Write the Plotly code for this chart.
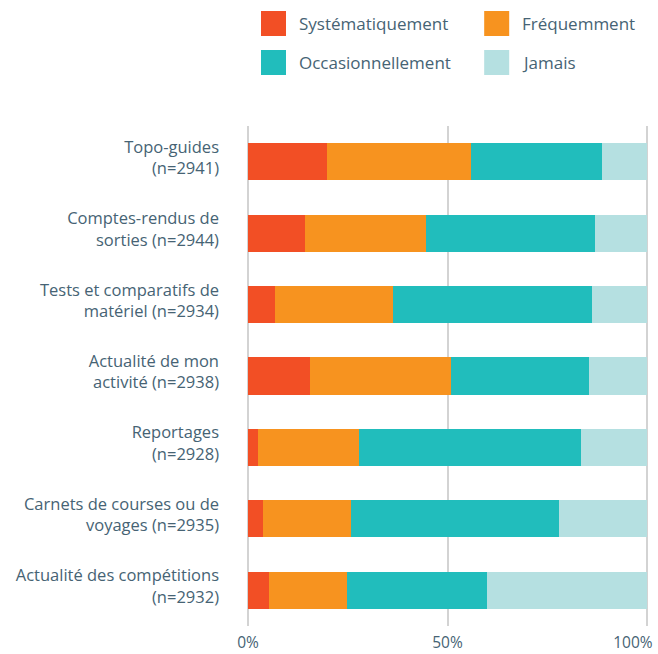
import plotly.graph_objects as go

categories = [
    "Topo-guides<br>(n=2941)",
    "Comptes-rendus de<br>sorties (n=2944)",
    "Tests et comparatifs de<br>matériel (n=2934)",
    "Actualité de mon<br>activité (n=2938)",
    "Reportages<br>(n=2928)",
    "Carnets de courses ou de<br>voyages (n=2935)",
    "Actualité des compétitions<br>(n=2932)",
]

systematiquement = [19.8, 14.3, 6.8, 15.6, 2.5, 3.7, 5.3]
frequemment = [36.1, 30.2, 29.6, 35.3, 25.4, 22.0, 19.5]
occasionnellement = [32.9, 42.5, 49.9, 34.5, 55.6, 52.3, 35.1]
jamais = [11.2, 13.0, 13.7, 14.6, 16.5, 22.0, 40.1]

x_ticks = [0, 50, 100]
x_ticktext = ["0%", "50%", "100%&nbsp;&nbsp;&nbsp;&nbsp;&nbsp;&nbsp;&nbsp;"]

series = [
    ("Systématiquement", systematiquement, "#f24f25"),
    ("Fréquemment", frequemment, "#f7931f"),
    ("Occasionnellement", occasionnellement, "#21bdbc"),
    ("Jamais", jamais, "#b5e0e1"),
]

text_color = "#466374"
font_family = "Open Sans"

fig = go.Figure()
for name, values, color in series:
    fig.add_trace(go.Bar(
        y=categories,
        x=values,
        name=name,
        orientation="h",
        marker=dict(color=color, line=dict(width=0)),
        hovertemplate="%{y}: %{x}%<extra>" + name + "</extra>",
    ))

# plot area in pixels, used to place the hand-drawn legend
# (x range runs a little past 100 so the 100% gridline is not clipped)
W, H = 658, 654
x_max = 100.5
left, top, bottom = 248, 126, 28
right = W - left - 398.7 * x_max / 100
pw = W - left - right
ph = H - top - bottom


def px_x(x):
    return (x - left) / pw


def px_y(y):
    return (H - bottom - y) / ph


legend_items = [
    (261, 11, series[0]),
    (484, 11, series[1]),
    (261, 50, series[2]),
    (484, 50, series[3]),
]
shapes = []
annotations = []
for x0, y0, (name, _, color) in legend_items:
    shapes.append(dict(
        type="rect", xref="paper", yref="paper",
        x0=px_x(x0), x1=px_x(x0 + 25), y0=px_y(y0 + 25), y1=px_y(y0),
        fillcolor=color, line=dict(width=0),
    ))
    annotations.append(dict(
        x=px_x(x0 + 36), y=px_y(y0 + 12.5), xref="paper", yref="paper",
        text=name, showarrow=False, xanchor="left", yanchor="middle",
        font=dict(size=17, color=text_color, family=font_family),
    ))

fig.update_layout(
    width=W,
    height=H,
    barmode="stack",
    bargap=0.48,
    showlegend=False,
    plot_bgcolor="white",
    paper_bgcolor="white",
    margin=dict(l=left, r=right, t=top, b=bottom, pad=0),
    font=dict(family=font_family, size=16.5, color=text_color),
    shapes=shapes,
    annotations=annotations,
    xaxis=dict(
        range=[0, x_max],
        tickvals=x_ticks,
        ticktext=x_ticktext,
        tickfont=dict(size=15.5),
        ticklabelstandoff=5,
        ticklabeloverflow="allow",
        showgrid=True,
        gridcolor="#d3d3d3",
        gridwidth=2,
        zeroline=True,
        zerolinecolor="#d3d3d3",
        zerolinewidth=2,
        showline=False,
        ticks="",
        automargin=False,
        fixedrange=True,
    ),
    yaxis=dict(
        autorange="reversed",
        showgrid=False,
        ticks="",
        ticklabelstandoff=28,
        ticklabelshift=4,
        automargin=False,
        fixedrange=True,
    ),
)

# the page's default body margin would shift the chart by 8px
fig.write_html(
    "out.html",
    config={"displayModeBar": False},
    post_script="document.body.style.margin='0';",
)
